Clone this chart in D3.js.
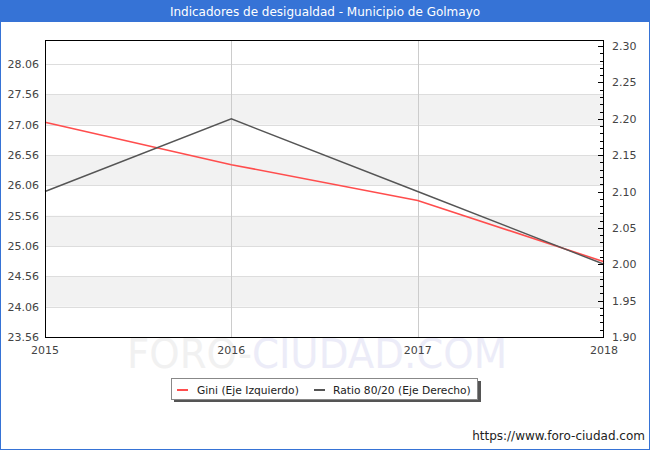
<!DOCTYPE html>
<html><head><meta charset="utf-8">
<script src="https://cdn.jsdelivr.net/npm/d3@7"></script>
<style>body{margin:0;background:#fff}svg{display:block}</style>
</head><body>
<svg id="c" width="650" height="450"></svg>
<script>
const years = [2015, 2016, 2017, 2018];
const gini = [27.10, 26.40, 25.81, 24.80];
const ratio = [2.10, 2.20, 2.10, 2.00];
const leftTicks = [23.56, 24.06, 24.56, 25.06, 25.56, 26.06, 26.56, 27.06, 27.56, 28.06];
const rightTicks = [1.90, 1.95, 2.00, 2.05, 2.10, 2.15, 2.20, 2.25, 2.30];
const title = "Indicadores de desigualdad - Municipio de Golmayo";
const seriesNames = ["Gini (Eje Izquierdo)", "Ratio 80/20 (Eje Derecho)"];

const svg = d3.select("#c");
const font = "DejaVu Sans, Verdana, sans-serif";
const L = 45, R = 604, T = 40, B = 337;

const x = d3.scaleLinear().domain([2015, 2018]).range([L, R]);
const yL = d3.scaleLinear().domain([23.56, 28.455]).range([B, T]);
const yR = d3.scaleLinear().domain([1.90, 2.3083]).range([B, T]);

// outer border + title
svg.append("rect").attr("x",0.5).attr("y",0.5).attr("width",649).attr("height",449)
  .attr("fill","#fff").attr("stroke","#3673d6");
svg.append("rect").attr("x",0).attr("y",0).attr("width",650).attr("height",22).attr("fill","#3673d6");
svg.append("text").attr("x",325).attr("y",15.5).attr("text-anchor","middle")
  .attr("font-family",font).attr("font-size",12).attr("fill","#fff").text(title);

// watermark
const wm = svg.append("text").attr("x",127).attr("y",368).attr("font-family",font)
  .attr("font-size",40).attr("textLength",380).attr("lengthAdjust","spacingAndGlyphs");
wm.append("tspan").attr("fill","#f1f1f1").text("FORO-");
wm.append("tspan").attr("fill","#ececf8").text("CIUDAD.COM");

// bands
for (let i = 1; i < leftTicks.length - 1; i += 2) {
  svg.append("rect").attr("x",L).attr("width",R-L)
    .attr("y",yL(leftTicks[i+1])).attr("height",yL(leftTicks[i]) - yL(leftTicks[i+1]))
    .attr("fill","#f2f2f2");
}
// horizontal gridlines
svg.append("g").selectAll("line").data(leftTicks.slice(1)).join("line")
  .attr("x1",L).attr("x2",R).attr("y1",d=>Math.round(yL(d))+0.5).attr("y2",d=>Math.round(yL(d))+0.5)
  .attr("stroke","#dddddd");
// vertical gridlines
svg.append("g").selectAll("line").data(years.slice(1,-1)).join("line")
  .attr("x1",d=>Math.round(x(d))+0.5).attr("x2",d=>Math.round(x(d))+0.5).attr("y1",T).attr("y2",B)
  .attr("stroke","#cccccc");

// lines
const lineL = d3.line().x((d,i)=>x(years[i])).y(d=>yL(d));
const lineR = d3.line().x((d,i)=>x(years[i])).y(d=>yR(d));
svg.append("path").attr("d",lineL(gini)).attr("fill","none").attr("stroke","#ff4d4d").attr("stroke-width",1.6);
svg.append("path").attr("d",lineR(ratio)).attr("fill","none").attr("stroke","#555555").attr("stroke-width",1.4);

// frame
svg.append("rect").attr("x",L+0.5).attr("y",T+0.5).attr("width",R-L-1).attr("height",B-T)
  .attr("fill","none").attr("stroke","#000");

// left axis labels
svg.append("g").selectAll("text").data(leftTicks).join("text")
  .attr("x",39).attr("y",d=>yL(d)+4).attr("text-anchor","end")
  .attr("font-family",font).attr("font-size",11).attr("fill","#444")
  .text(d=>d.toFixed(2));

// right axis ticks (minor every 0.01, major every 0.05)
const minor = d3.range(190, 231).map(v=>v/100);
svg.append("g").selectAll("line").data(minor).join("line")
  .attr("x1",R-4).attr("x2",R)
  .attr("y1",d=>Math.round(yR(d))+0.5).attr("y2",d=>Math.round(yR(d))+0.5)
  .attr("stroke","#000");
svg.append("g").selectAll("line").data(rightTicks).join("line")
  .attr("x1",R-6).attr("x2",R)
  .attr("y1",d=>Math.round(yR(d))+0.5).attr("y2",d=>Math.round(yR(d))+0.5)
  .attr("stroke","#000");
svg.append("g").selectAll("text").data(rightTicks).join("text")
  .attr("x",612).attr("y",d=>yR(d)+4).attr("text-anchor","start")
  .attr("font-family",font).attr("font-size",11).attr("fill","#444")
  .text(d=>d.toFixed(2));

// x labels
svg.append("g").selectAll("text").data(years).join("text")
  .attr("x",d=>x(d)).attr("y",354).attr("text-anchor","middle")
  .attr("font-family",font).attr("font-size",11).attr("fill","#444").text(d=>d);

// legend
svg.append("rect").attr("x",174).attr("y",381).attr("width",307).attr("height",21).attr("fill","#555");
svg.append("rect").attr("x",171.5).attr("y",378.5).attr("width",306).attr("height",21)
  .attr("fill","#fff").attr("stroke","#888");
const lg = [{c:"#ff4d4d", x:177, tx:197},{c:"#555555", x:314, tx:333}];
lg.forEach((l,i)=>{
  svg.append("line").attr("x1",l.x).attr("x2",l.x+11).attr("y1",390).attr("y2",390)
    .attr("stroke",l.c).attr("stroke-width",2);
  svg.append("text").attr("x",l.tx).attr("y",393.5).attr("font-family",font)
    .attr("font-size",10.7).attr("fill","#222").text(seriesNames[i]);
});

// source
svg.append("text").attr("x",645).attr("y",440).attr("text-anchor","end")
  .attr("font-family",font).attr("font-size",12).attr("fill","#222").text("https://www.foro-ciudad.com");
</script>
</body></html>
